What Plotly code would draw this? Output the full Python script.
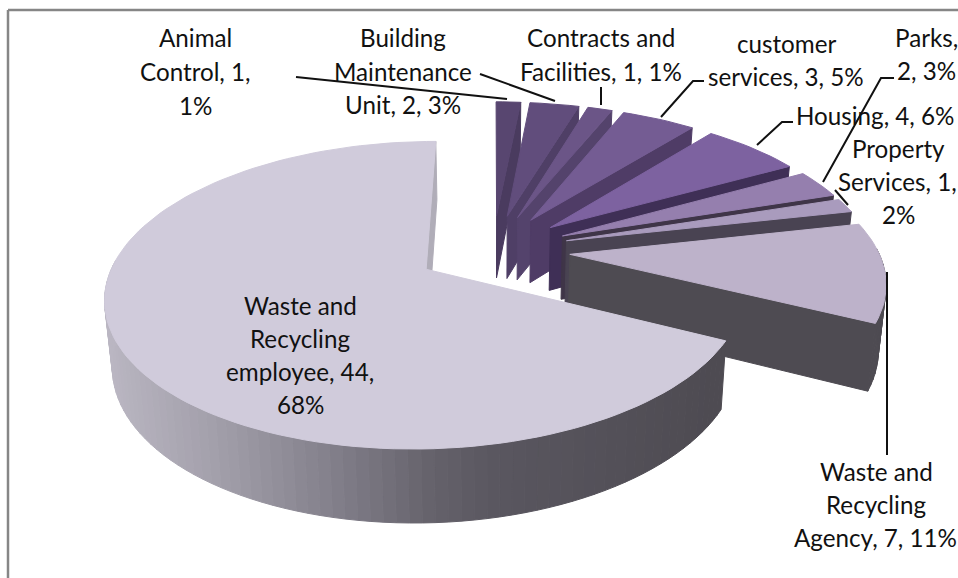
import numpy as np
import plotly.graph_objects as go

# ---- data ----
categories = ["Animal Control", "Building Maintenance Unit", "Contracts and Facilities",
              "customer services", "Housing", "Parks", "Property Services",
              "Waste and Recycling Agency", "Waste and Recycling employee"]
counts = [1, 2, 1, 3, 4, 2, 1, 7, 44]
percents = [1, 3, 1, 5, 6, 3, 2, 11, 68]

# ---- styles ----
top_colors = ["#584670", "#614d7c", "#6b5587", "#745c93", "#7d62a0", "#957fae", "#a99bbd", "#bdb2ca", "#d0cbdb"]
wall_colors = ["#4a3b5f", "#4f3f66", "#54436c", "#4f3c66", "#3f2f56", "#3f3548", "#494352", "#4e4b52", "#b0adb8"]

# ---- projection of the tilted pie ----
X0, Y0 = 493.0, 250.0
R, RT, K = 308.0, 143.0, 0.165   # radius, foreshortened radius, perspective
H = 64.0                         # thickness
SHRINK = 0.02                    # lower face is slightly farther from the eye
EXPLODE = 0.25


def project(u, v, z=0.0):
    p = 1.0 / (1.0 - K * v)
    return X0 + u * R * p * (1 - SHRINK * z), Y0 + v * RT * p + z * H * p ** 0.7


def ground(theta, radius=1.0):
    return radius * np.sin(theta), -radius * np.cos(theta)


def poly(fig, xs, ys, color):
    fig.add_trace(go.Scatter(x=list(xs) + [xs[0]], y=list(ys) + [ys[0]], mode="lines", fill="toself",
                             fillcolor=color, line=dict(color=color, width=1),
                             hoverinfo="skip", showlegend=False))


def big_wall_color(x):
    stops_x = [100, 230, 330, 440, 500, 725, 900]
    r = np.interp(x, stops_x, [0xbc, 0xa0, 0x85, 0x65, 0x5a, 0x4e, 0x4e])
    g = np.interp(x, stops_x, [0xb8, 0x9d, 0x82, 0x62, 0x57, 0x4b, 0x4b])
    b = np.interp(x, stops_x, [0xc4, 0xa8, 0x8d, 0x6b, 0x60, 0x52, 0x52])
    return f"rgb({int(r)},{int(g)},{int(b)})"


fig = go.Figure()
total = float(sum(counts))
edges = 2 * np.pi * np.concatenate([[0.0], np.cumsum(counts)]) / total

for i, name in enumerate(categories):
    a0, a1 = edges[i], edges[i + 1]
    mid = 0.5 * (a0 + a1)
    cu, cv = ground(mid, EXPLODE)
    n = max(4, int((a1 - a0) / np.radians(2.0)))
    th = np.linspace(a0, a1, n + 1)
    ou, ov = ground(th)
    ou, ov = ou + cu, ov + cv

    # radial cut face at the clockwise end of the slice
    eu, ev = ou[-1], ov[-1]
    wx, wy = zip(project(cu, cv), project(eu, ev), project(eu, ev, 1), project(cu, cv, 1))
    poly(fig, wx, wy, wall_colors[i])

    # outer rim
    for j in range(n):
        if -np.cos(0.5 * (th[j] + th[j + 1])) < -0.05:
            continue
        qx, qy = zip(project(ou[j], ov[j]), project(ou[j + 1], ov[j + 1]),
                     project(ou[j + 1], ov[j + 1], 1), project(ou[j], ov[j], 1))
        color = big_wall_color(qx[0]) if i == len(categories) - 1 else wall_colors[i]
        poly(fig, qx, qy, color)

    # top face
    tx, ty = project(np.concatenate([[cu], ou]), np.concatenate([[cv], ov]))
    poly(fig, tx, ty, top_colors[i])

# ---- leader lines ----
leaders = [
    [(296, 77), (400, 88), (507, 99)],
    [(480, 74), (555, 101)],
    [(601, 87), (601, 105)],
    [(661, 117), (693, 81), (704, 81)],
    [(757, 145), (782, 122), (793, 122)],
    [(823, 182), (881, 78), (894, 78)],
    [(835, 190), (848, 205)],
    [(887, 272), (887, 455)],
]
for seg in leaders:
    fig.add_trace(go.Scatter(x=[p[0] for p in seg], y=[p[1] for p in seg], mode="lines",
                             line=dict(color="#111111", width=2), hoverinfo="skip", showlegend=False))

# ---- labels, one annotation per text line to keep the original line pitch ----
label_lines = [
    ("Animal", 195, 37), ("Control, 1,", 195, 71), ("1%", 195, 105),
    ("Building", 403, 37), ("Maintenance", 403, 71), ("Unit, 2, 3%", 403, 104),
    ("Contracts and", 601, 37), ("Facilities, 1, 1%", 601, 71),
    ("customer", 786, 43), ("services, 3, 5%", 786, 76),
    ("Parks,", 926, 37), ("2, 3%", 926, 70),
    ("Housing, 4, 6%", 875, 115),
    ("Property", 898, 148), ("Services, 1,", 897, 181), ("2%", 898, 214),
    ("Waste and", 876, 471), ("Recycling", 876, 504), ("Agency, 7, 11%", 875, 537),
    ("Waste and", 300, 305), ("Recycling", 300, 338), ("employee, 44,", 300, 371), ("68%", 300, 404),
]
annotations = [dict(text=t, x=x, y=y, xref="x", yref="y", showarrow=False, xanchor="center", yanchor="middle",
                    font=dict(family="Lato, Carlito, Calibri, sans-serif", size=24.2, color="#111111"))
               for t, x, y in label_lines]

frame = [
    dict(type="line", x0=8, y0=10, x1=958, y1=10, line=dict(color="#868686", width=2.5)),
    dict(type="line", x0=8, y0=10, x1=8, y1=578, line=dict(color="#868686", width=2.5)),
]

fig.update_layout(
    width=958, height=578, margin=dict(l=0, r=0, t=0, b=0),
    paper_bgcolor="white", plot_bgcolor="white", showlegend=False,
    xaxis=dict(range=[0, 958], visible=False, fixedrange=True),
    yaxis=dict(range=[578, 0], visible=False, fixedrange=True),
    annotations=annotations, shapes=frame,
)
fig.write_html("out.html", config={"displayModeBar": False},
               post_script="document.body.style.margin='0';document.documentElement.style.overflow='hidden';")
